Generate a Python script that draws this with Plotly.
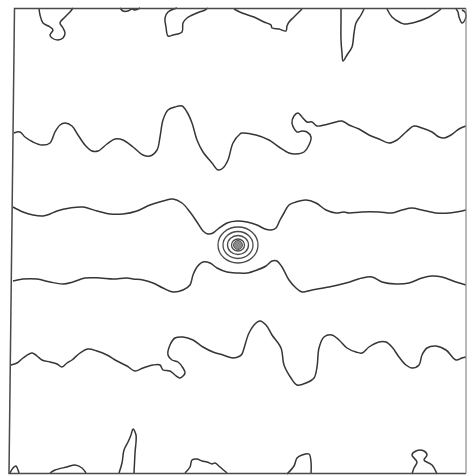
import plotly.graph_objects as go

# ---- frame (image-pixel coordinate system) ----
frame_x = [466, 14.5, 9, 466]
frame_y = [8.5, 8.5, 473.5, 473.5]
right_edge_x = [466, 466]
right_edge_y = [8.5, 473.5]

# ---- top edge fragments ----
top_a_x = [39, 40, 43, 50, 53, 50, 52, 58, 63, 65, 63, 60, 65, 70, 73]
top_a_y = [8, 15, 23, 27, 30, 35, 38, 40, 38, 33, 28, 23, 17, 12, 8]
top_b_x = [120, 123, 128, 132, 135, 140]
top_b_y = [8, 11, 11, 9, 10, 8]
top_c_x = [177, 168, 165, 166, 168, 173, 182, 183, 187, 197, 205, 208]
top_c_y = [8, 12, 18, 27, 36, 35, 32, 23, 18, 13, 10, 8]
top_d_x = [234, 242, 254, 264, 271, 272, 279, 286, 287, 289, 294, 299, 302]
top_d_y = [9, 13, 17, 22, 25, 28, 29, 31, 26, 22, 17, 12, 9]
top_e_x = [341, 341, 341, 342, 343, 347, 352, 354, 356, 361, 364]
top_e_y = [9, 20, 40, 53, 61, 55, 47, 33, 23, 15, 9]
top_f_x = [387, 392, 401, 404, 416, 429, 437, 441]
top_f_y = [9, 17, 23, 24, 22, 17, 12, 9]
top_g_x = [456, 458, 459, 462, 465, 466, 465, 462]
top_g_y = [9, 12, 17, 23, 20, 15, 12, 10]

# ---- upper wavy contour ----
wave1_x = [14, 20, 25, 33, 42, 50, 55, 60, 65, 72, 78, 85, 92, 98, 107, 115, 123, 133, 143, 150,
           157, 160, 163, 168, 175, 182, 187, 192, 197, 203, 212, 218, 223, 228, 233, 240, 242,
           256, 269, 279, 289, 296, 304, 309, 311, 307, 302, 297, 292, 294, 298, 302, 307, 312,
           317, 324, 332, 342, 349, 359, 369, 379, 389, 397, 406, 414, 422, 432, 439, 444, 451,
           459, 466]
wave1_y = [133, 132, 137, 142, 145, 143, 132, 125, 123, 126, 135, 145, 151, 151, 144, 139, 140, 147, 155, 156,
           150, 137, 120, 110, 107, 106, 112, 123, 140, 152, 163, 170, 168, 160, 143, 134, 133,
           135, 140, 147, 153, 154, 152, 145, 137, 132, 131, 132, 123, 116, 113, 117, 122, 122,
           126, 125, 123, 121, 125, 129, 135, 139, 143, 140, 132, 126, 128, 132, 137, 138, 135,
           129, 126]

# ---- upper middle contour ----
wave2_x = [13, 23, 33, 43, 50, 57, 70, 83, 97, 110, 123, 137, 150, 163, 173, 182, 190, 197, 203,
           208, 213, 218, 227, 237, 247, 257, 265, 271, 276, 280, 284, 289, 296, 306, 316, 326,
           336, 344, 349, 362, 379, 392, 402, 412, 422, 436, 449, 462, 466]
wave2_y = [207, 212, 215, 216, 214, 211, 208, 207, 211, 214, 214, 211, 205, 201, 199, 203, 212, 222, 231,
           234, 233, 229, 223, 221, 222, 225, 229, 230, 228, 220, 213, 205, 202, 200, 203, 210,
           213, 212, 213, 212, 212, 213, 210, 208, 210, 213, 213, 211, 210]

# ---- lower middle contour ----
wave3_x = [13, 23, 37, 50, 63, 73, 85, 100, 113, 127, 133, 143, 153, 163, 173, 183, 190, 193, 197,
           203, 210, 217, 227, 237, 247, 257, 266, 272, 277, 282, 289, 296, 302, 312, 329, 346,
           362, 372, 382, 396, 409, 422, 432, 442, 456, 466]
wave3_y = [281, 279, 279, 282, 284, 282, 278, 278, 279, 278, 279, 280, 283, 288, 292, 290, 285, 275, 267,
           262, 263, 268, 272, 273, 273, 270, 266, 261, 261, 267, 280, 288, 292, 290, 287, 283,
           278, 277, 282, 284, 283, 278, 276, 277, 282, 285]

# ---- lower wavy contour ----
wave4_x = [11, 17, 23, 32, 37, 42, 50, 57, 62, 67, 72, 80, 88, 97, 107, 117, 127, 135, 143, 153,
           160, 163, 170, 175, 180, 185, 183, 178, 172, 168, 170, 175, 183, 193, 203, 213, 223,
           233, 240, 242, 249, 256, 260, 266, 272, 281, 284, 291, 297, 306, 314, 317, 319, 324,
           332, 339, 347, 356, 362, 369, 379, 386, 392, 399, 406, 412, 419, 422, 427, 436, 446,
           456, 462, 466]
wave4_y = [365, 363, 358, 353, 356, 360, 362, 364, 367, 363, 360, 353, 349, 351, 355, 361, 366, 371, 368, 365,
           365, 370, 371, 375, 378, 373, 368, 362, 360, 355, 345, 338, 337, 340, 347, 352, 355,
           358, 356, 354, 333, 323, 321, 325, 335, 348, 365, 378, 385, 383, 378, 367, 348, 337,
           335, 340, 348, 352, 353, 347, 342, 342, 347, 357, 365, 368, 365, 355, 348, 346, 350,
           360, 358, 357]

# ---- bottom edge fragments ----
bot_h_x = [10, 13, 16, 18, 19]
bot_h_y = [473, 468, 466, 470, 473]
bot_i_x = [50, 55, 67, 75, 82, 86]
bot_i_y = [473, 470, 467, 465, 468, 473]
bot_j_x = [119, 122, 124, 128, 131, 133, 136, 135, 134]
bot_j_y = [473, 463, 450, 442, 435, 429, 435, 453, 473]
bot_k_x = [185, 190, 192, 197, 202, 207, 212, 215, 220, 227]
bot_k_y = [473, 467, 460, 459, 461, 462, 464, 463, 467, 473]
bot_l_x = [287, 294, 297, 302, 309, 311, 311]
bot_l_y = [474, 466, 458, 455, 454, 462, 474]
bot_m_x = [412, 414, 417, 412, 416, 424, 427, 424, 432, 437]
bot_m_y = [474, 468, 462, 455, 451, 451, 455, 460, 465, 474]

# ---- concentric rings at the centre ----
ring_cx = 238
ring_cy = 245
ring_rx = [20, 15, 10.5, 6.5]
ring_ry = [18, 13.5, 9.5, 6]
core_r = 4.5

LINE = "#363636"

curves = [
    (top_a_x, top_a_y), (top_b_x, top_b_y), (top_c_x, top_c_y), (top_d_x, top_d_y),
    (top_e_x, top_e_y), (top_f_x, top_f_y), (top_g_x, top_g_y),
    (wave1_x, wave1_y), (wave2_x, wave2_y), (wave3_x, wave3_y), (wave4_x, wave4_y),
    (bot_h_x, bot_h_y), (bot_i_x, bot_i_y), (bot_j_x, bot_j_y), (bot_k_x, bot_k_y),
    (bot_l_x, bot_l_y), (bot_m_x, bot_m_y),
]

fig = go.Figure()
for cx, cy in curves:
    fig.add_trace(go.Scatter(x=cx, y=cy, mode="lines", line=dict(color=LINE, width=1.5),
                             line_shape="spline", hoverinfo="skip", showlegend=False))

fig.add_trace(go.Scatter(x=frame_x, y=frame_y, mode="lines", line=dict(color="#4a4a4a", width=1.5),
                         hoverinfo="skip", showlegend=False))
fig.add_trace(go.Scatter(x=right_edge_x, y=right_edge_y, mode="lines", line=dict(color="#8a8a8a", width=1.2),
                         hoverinfo="skip", showlegend=False))

for rx, ry in zip(ring_rx, ring_ry):
    fig.add_shape(type="circle", xref="x", yref="y",
                  x0=ring_cx - rx, x1=ring_cx + rx, y0=ring_cy - ry, y1=ring_cy + ry,
                  line=dict(color="#4a4a4a", width=1.3))
fig.add_shape(type="circle", xref="x", yref="y",
              x0=ring_cx - core_r, x1=ring_cx + core_r, y0=ring_cy - core_r, y1=ring_cy + core_r,
              line=dict(color="#555555", width=1), fillcolor="#8a8a8a")

fig.update_layout(
    width=469, height=475, margin=dict(l=0, r=0, t=0, b=0),
    paper_bgcolor="white", plot_bgcolor="white",
    xaxis=dict(range=[0, 469], visible=False, fixedrange=True),
    yaxis=dict(range=[475, 0], visible=False, fixedrange=True),
)
fig.write_html("out.html")
